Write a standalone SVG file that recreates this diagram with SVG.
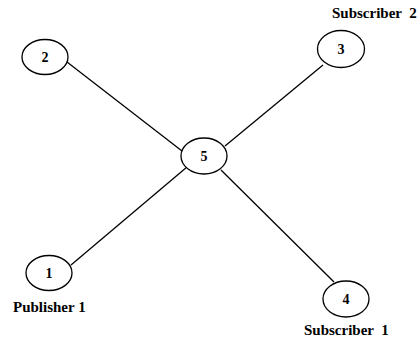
<svg xmlns="http://www.w3.org/2000/svg" width="418" height="339" viewBox="0 0 418 339">
<style>
.n{fill:#fff;stroke:#000;stroke-width:1.3}
.c{stroke:#000;stroke-width:1.3;fill:none}
.t{font-family:"Liberation Serif","Times New Roman",serif;font-weight:bold;fill:#000}
.num{font-size:14px;text-anchor:middle}
.lab{font-size:15px}
</style>
<rect width="418" height="339" fill="#fff"/>
<g id="connectors">
<line class="c" x1="67" y1="62" x2="182" y2="151"/>
<line class="c" x1="323" y1="65" x2="225" y2="146"/>
<line class="c" x1="187" y1="167" x2="71" y2="265"/>
<line class="c" x1="221" y1="170" x2="334" y2="282"/>
</g>
<g id="node2"><ellipse class="n" cx="45" cy="57" rx="23" ry="17.5"/><text class="t num" x="45" y="62">2</text></g>
<g id="node3"><ellipse class="n" cx="341" cy="49" rx="23.5" ry="18.5"/><text class="t num" x="341" y="54">3</text></g>
<g id="node5"><ellipse class="n" cx="204" cy="156" rx="23" ry="18"/><text class="t num" x="204" y="161">5</text></g>
<g id="node1"><ellipse class="n" cx="49" cy="273" rx="23" ry="17.5"/><text class="t num" x="49" y="278">1</text></g>
<g id="node4"><ellipse class="n" cx="346" cy="299" rx="23" ry="18"/><text class="t num" x="346" y="304">4</text></g>
<text class="t lab" x="13" y="312">Publisher 1</text>
<text class="t lab" x="304" y="335" xml:space="preserve">Subscriber  1</text>
<text class="t lab" x="332" y="18" xml:space="preserve">Subscriber  2</text>
</svg>
